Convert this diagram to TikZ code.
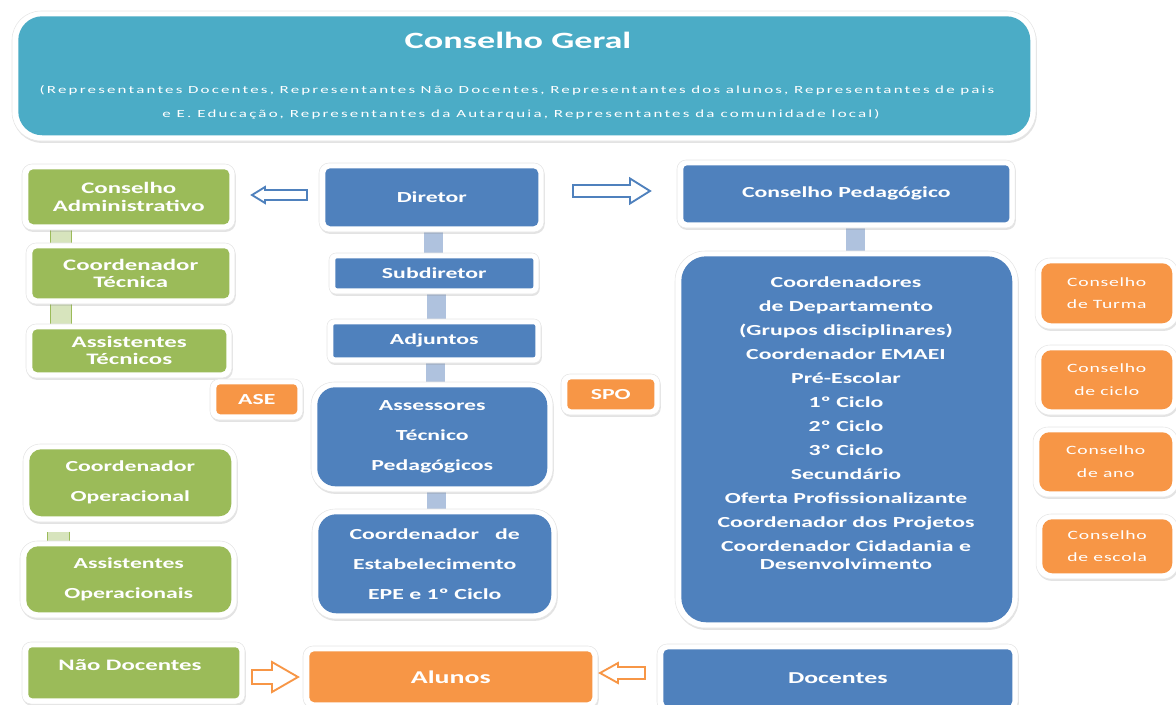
\documentclass[tikz,border=0pt]{standalone}
\usepackage{fontspec}
\setmainfont{Carlito}[FakeStretch=1.55]
\usetikzlibrary{shadows,backgrounds,calc}
\definecolor{cteal}{HTML}{4BACC6}
\definecolor{cblue}{HTML}{4F81BD}
\definecolor{cgreen}{HTML}{9BBB59}
\definecolor{corange}{HTML}{F79646}
\definecolor{cbar}{HTML}{AFC2DE}
\definecolor{cgbar}{HTML}{D7E4BD}
\tikzset{
 boxframe/.style={fill=white, draw=black!10, line width=0.4pt, drop shadow={opacity=0.22, shadow xshift=0.6pt, shadow yshift=-1.4pt}},
 boxtext/.style={text=white, align=center, inner sep=0pt, font=\bfseries\fontsize{11.5}{13.5}\selectfont},
 bluebox/.style={boxtext, fill=cblue},
 greenbox/.style={boxtext, fill=cgreen},
 orangebox/.style={boxtext, fill=corange},
 tealbox/.style={fill=cteal},
 smallorange/.style={orangebox, font=\fontsize{9.5}{17}\selectfont\addfontfeature{LetterSpace=6}},
 subtitle/.style={text=white, inner sep=0pt, font=\fontsize{8.2}{10}\selectfont\addfontfeature{LetterSpace=20}},
 bbar/.style={draw=cbar, line width=14pt},
 gbar/.style={draw=cgreen, line width=0.8pt, double=cgbar, double distance=15pt},
 barrowstyle/.style={draw=cblue, fill=white, line width=1.4pt},
 oarrowstyle/.style={draw=corange, fill=white, line width=1.4pt},
}
% style, radius(px), name, x1, y1, x2, y2, text
\newcommand\cbox[8]{%
 \path[boxframe, rounded corners={(#2+5)*0.75pt}] ({#4-6},{#5-5}) rectangle ({#6+6},{#7+6});
 \node[#1, rounded corners={(#2)*0.75pt}, minimum width={(#6-#4)*0.75pt}, minimum height={(#7-#5)*0.75pt}, anchor=north west] (#3) at (#4,#5) {#8};
}
% style, name, tip x, tip y, dir, length, head length, head half, shaft half
\newcommand\harrow[9]{%
 \coordinate (#2) at (#3,#4);
 \draw[#1] (#2) -- ++({#5*#7},{-#8}) -- ++(0,{#8-#9}) -- ++({#5*(#6-#7)},0) -- ++(0,{2*#9}) -- ++({-#5*(#6-#7)},0) -- ++(0,{#8-#9}) -- cycle;
}
\begin{document}
\begin{tikzpicture}[x=0.75pt, y=-0.75pt]
\useasboundingbox (0,0) rectangle (1176,704);
\clip (0,0) rectangle (1176,704);
% top
\cbox{tealbox}{24}{cg}{18}{16}{1030}{135}{}
\node[text=white, font=\bfseries\fontsize{17.5}{20}\selectfont] (cgt) at (518,40) {Conselho Geral};
\node[subtitle] (cgs1) at (517,90) {\makebox[716pt][s]{(Representantes Docentes, Representantes Não Docentes, Representantes dos alunos, Representantes de pais}};
\node[subtitle] (cgs2) at (521,114) {\makebox[538pt][s]{e E. Educação, Representantes da Autarquia, Representantes da comunidade local)}};
% left green
\cbox{greenbox, font=\bfseries\fontsize{12}{13.5}\selectfont}{5}{ca}{28}{169}{229}{224}{Conselho\\Administrativo}
\cbox{greenbox, font=\bfseries\fontsize{12}{13}\selectfont}{5}{ct}{32}{248}{229}{298}{Coordenador\\Técnica}
\cbox{greenbox, font=\bfseries\fontsize{12}{13}\selectfont}{5}{at}{32}{329}{226}{372}{Assistentes\\Técnicos}
\cbox{greenbox, font=\bfseries\fontsize{11.5}{22.5}\selectfont}{12}{co}{29}{449}{231}{516}{Coordenador\\Operacional}
\cbox{greenbox, font=\bfseries\fontsize{11.5}{23}\selectfont}{12}{ao}{26}{546}{231}{612}{Assistentes\\Operacionais}
\cbox{greenbox}{4}{nd}{28}{647}{239}{698}{}
\node[boxtext, font=\bfseries\fontsize{12}{14}\selectfont] (ndt) at (130,665) {Não Docentes};
% orange small
\cbox{orangebox}{4}{ase}{216}{384}{297}{414}{ASE}
\cbox{orangebox}{4}{spo}{567}{379}{654}{409}{SPO}
% middle blue
\cbox{bluebox}{5}{dir}{325}{168}{538}{226}{Diretor}
\cbox{bluebox}{2}{sub}{335}{258}{533}{288}{Subdiretor}
\cbox{bluebox}{2}{adj}{333}{324}{535}{357}{Adjuntos}
\cbox{bluebox, font=\bfseries\fontsize{11.5}{22.5}\selectfont}{18}{ass}{317}{387}{547}{486}{Assessores\\Técnico\\Pedagógicos}
\cbox{bluebox, font=\bfseries\fontsize{11.5}{22.5}\selectfont}{18}{cde}{318}{514}{551}{613}{Coordenador\ \ \ de\\Estabelecimento\\EPE e 1º Ciclo}
% bottom row
\cbox{orangebox, font=\bfseries\fontsize{13.5}{15}\selectfont}{5}{alu}{309}{651}{592}{702}{Alunos}
\cbox{bluebox, font=\bfseries\fontsize{12.5}{15}\selectfont}{5}{doc}{663}{649}{1012}{706}{Docentes}
% right
\cbox{bluebox}{4}{cp}{683}{165}{1009}{222}{Conselho Pedagógico}
\cbox{bluebox}{25}{cdn}{681}{256}{1012}{622}{}
\node[boxtext, anchor=north] (cdnt) at (846,276) {Coordenadores\\[4.5pt]
 de Departamento\\[4.5pt]
 (Grupos disciplinares)\\[4.5pt]
 Coordenador EMAEI\\[4.5pt]
 Pré-Escolar\\[4.5pt]
 1º Ciclo\\[4.5pt]
 2º Ciclo\\[4.5pt]
 3º Ciclo\\[4.5pt]
 Secundário\\[4.5pt]
 Oferta Profissionalizante\\[4.5pt]
 Coordenador dos Projetos\\[4.5pt]
 Coordenador Cidadania e\\
 Desenvolvimento};
\cbox{smallorange}{10}{ctu}{1041}{263}{1172}{323}{Conselho\\de Turma}
\cbox{smallorange}{10}{cci}{1041}{350}{1172}{409}{Conselho\\de ciclo}
\cbox{smallorange}{10}{can}{1039}{432}{1172}{491}{Conselho\\de ano}
\cbox{smallorange}{10}{ces}{1042}{519}{1172}{573}{Conselho\\de escola}
% connectors (bars)
\begin{pgfonlayer}{background}
\draw[bbar] ([xshift=1.5pt]dir.south) -- ([xshift=1.5pt]dir.south |- sub.north);
\draw[bbar] ([xshift=1.5pt]sub.south) -- ([xshift=1.5pt]sub.south |- adj.north);
\draw[bbar] ([xshift=1pt]adj.south) -- ([xshift=1pt]adj.south |- ass.north);
\draw[bbar] ([xshift=3pt]ass.south) -- ([xshift=3pt]ass.south |- cde.north);
\draw[bbar] ([xshift=6.75pt]cp.south) -- ([xshift=6.75pt]cp.south |- cdn.north);
\coordinate (g1) at ($(ca.south west)+(33,0)$);
\draw[gbar] (g1) -- (g1 |- ct.north);
\coordinate (g2) at ($(ct.south west)+(29,0)$);
\draw[gbar] (g2) -- (g2 |- at.north);
\coordinate (g3) at ($(co.south west)+(29.5,15)$);
\draw[gbar, double distance=16pt] (g3) -- (g3 |- ao.north);
\end{pgfonlayer}
% block arrows
\harrow{barrowstyle}{a1}{252}{195}{1}{55}{13}{8}{5}
\harrow{barrowstyle}{a2}{650}{191}{-1}{77}{20}{12.5}{6}
\harrow{oarrowstyle}{a3}{298}{677}{-1}{46}{26}{15}{7}
\harrow{oarrowstyle}{a4}{600}{673}{1}{45}{18}{10}{6}
\end{tikzpicture}
\end{document}
